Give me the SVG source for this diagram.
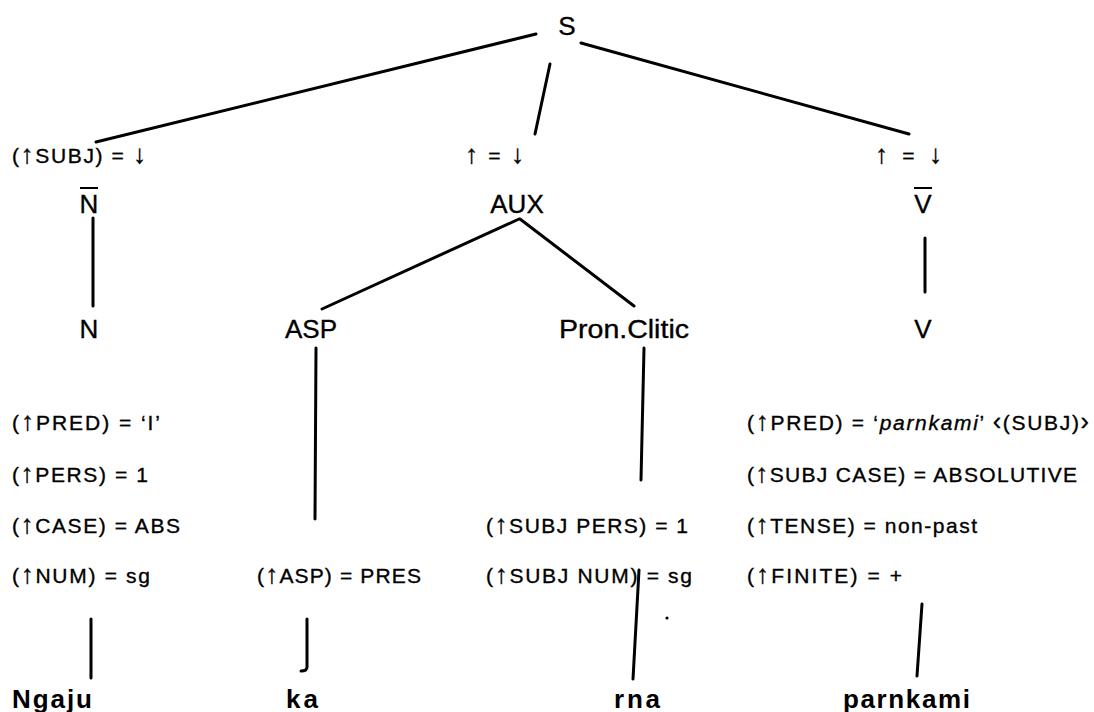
<svg xmlns="http://www.w3.org/2000/svg" width="1094" height="712" viewBox="0 0 1094 712">
<style>
text{font-family:"Liberation Sans",Arial,sans-serif;fill:#000;stroke:#000;stroke-width:0.35}
.cat{font-size:26px}
.ann{font-size:21px}
.feat{font-size:21px}
.word{font-size:26px;font-weight:bold;stroke-width:0}
.ar{font-size:125%}
.ang{font-size:120%}
.edge{stroke:#000;stroke-width:3;fill:none;stroke-linecap:round}
.bar{stroke:#000;stroke-width:2}
</style>
<rect width="1094" height="712" fill="#fff"/>
<g id="connectors">
<line class="edge" x1="536" y1="34" x2="96" y2="142"/>
<line class="edge" x1="550" y1="64" x2="535" y2="134"/>
<line class="edge" x1="581" y1="43" x2="909" y2="134"/>
<line class="edge" x1="93" y1="218" x2="93" y2="306"/>
<line class="edge" x1="519" y1="219" x2="322" y2="309"/>
<line class="edge" x1="520" y1="219" x2="634" y2="306"/>
<line class="edge" x1="925" y1="238" x2="925" y2="292"/>
<line class="edge" x1="316" y1="348" x2="315" y2="519"/>
<line class="edge" x1="644" y1="348" x2="641" y2="480"/>
<line class="edge" x1="91" y1="619" x2="91" y2="678"/>
<path class="edge" d="M307 619 L307 667 Q307 671 301 671"/>
<line class="edge" x1="639" y1="570" x2="633" y2="679"/>
<line class="edge" x1="922" y1="604" x2="917" y2="676"/>
<circle cx="667" cy="618" r="1.6" fill="#000"/>
</g>
<g id="S"><text class="cat" x="567" y="35" text-anchor="middle">S</text></g>
<g id="subj-ann"><text class="ann" x="12" y="163" textLength="134" lengthAdjust="spacing">(<tspan class="ar">↑</tspan>SUBJ) = <tspan class="ar">↓</tspan></text></g>
<g id="aux-ann"><text class="ann" x="465" y="163" textLength="59" lengthAdjust="spacing"><tspan class="ar">↑</tspan> = <tspan class="ar">↓</tspan></text></g>
<g id="vbar-ann"><text class="ann" x="875" y="163" textLength="67" lengthAdjust="spacing"><tspan class="ar">↑</tspan> =  <tspan class="ar">↓</tspan></text></g>
<g id="Nbar"><text class="cat" x="89" y="213" text-anchor="middle">N</text><line class="bar" x1="80" y1="188" x2="98" y2="188"/></g>
<g id="AUX"><text class="cat" x="517" y="213" text-anchor="middle">AUX</text></g>
<g id="Vbar"><text class="cat" x="923" y="213" text-anchor="middle">V</text><line class="bar" x1="914" y1="188" x2="932" y2="188"/></g>
<g id="N"><text class="cat" x="89" y="338" text-anchor="middle">N</text></g>
<g id="ASP"><text class="cat" x="311" y="338" text-anchor="middle">ASP</text></g>
<g id="PronClitic"><text class="cat" x="559" y="338" textLength="130" lengthAdjust="spacingAndGlyphs">Pron.Clitic</text></g>
<g id="V"><text class="cat" x="923" y="338" text-anchor="middle">V</text></g>
<g id="N-feats">
<text class="feat" x="12" y="430" textLength="148" lengthAdjust="spacing">(<tspan class="ar">↑</tspan>PRED) =  ‘I’</text>
<text class="feat" x="12" y="482" textLength="136" lengthAdjust="spacing">(<tspan class="ar">↑</tspan>PERS) = 1</text>
<text class="feat" x="12" y="533" textLength="168" lengthAdjust="spacing">(<tspan class="ar">↑</tspan>CASE) = ABS</text>
<text class="feat" x="12" y="583" textLength="138" lengthAdjust="spacing">(<tspan class="ar">↑</tspan>NUM) = sg</text>
</g>
<g id="ASP-feats"><text class="feat" x="257" y="583" textLength="164" lengthAdjust="spacing">(<tspan class="ar">↑</tspan>ASP) = PRES</text></g>
<g id="Pron-feats">
<text class="feat" x="486" y="533" textLength="202" lengthAdjust="spacing">(<tspan class="ar">↑</tspan>SUBJ PERS) = 1</text>
<text class="feat" x="486" y="583" textLength="206" lengthAdjust="spacing">(<tspan class="ar">↑</tspan>SUBJ NUM) = sg</text>
</g>
<g id="V-feats">
<text class="feat" x="747" y="430" textLength="342" lengthAdjust="spacing">(<tspan class="ar">↑</tspan>PRED) =  ‘<tspan font-style="italic">parnkami</tspan>’ <tspan class="ang">‹</tspan>(SUBJ)<tspan class="ang">›</tspan></text>
<text class="feat" x="747" y="482" textLength="330" lengthAdjust="spacing">(<tspan class="ar">↑</tspan>SUBJ CASE) = ABSOLUTIVE</text>
<text class="feat" x="747" y="533" textLength="230" lengthAdjust="spacing">(<tspan class="ar">↑</tspan>TENSE) = non-past</text>
<text class="feat" x="747" y="583" textLength="155" lengthAdjust="spacing">(<tspan class="ar">↑</tspan>FINITE) =  +</text>
</g>
<g id="Ngaju"><text class="word" x="12" y="708" textLength="80" lengthAdjust="spacing">Ngaju</text></g>
<g id="ka"><text class="word" x="286" y="708" textLength="32" lengthAdjust="spacing">ka</text></g>
<g id="rna"><text class="word" x="614" y="708" textLength="46" lengthAdjust="spacing">rna</text></g>
<g id="parnkami"><text class="word" x="843" y="708" textLength="127" lengthAdjust="spacing">parnkami</text></g>
</svg>
